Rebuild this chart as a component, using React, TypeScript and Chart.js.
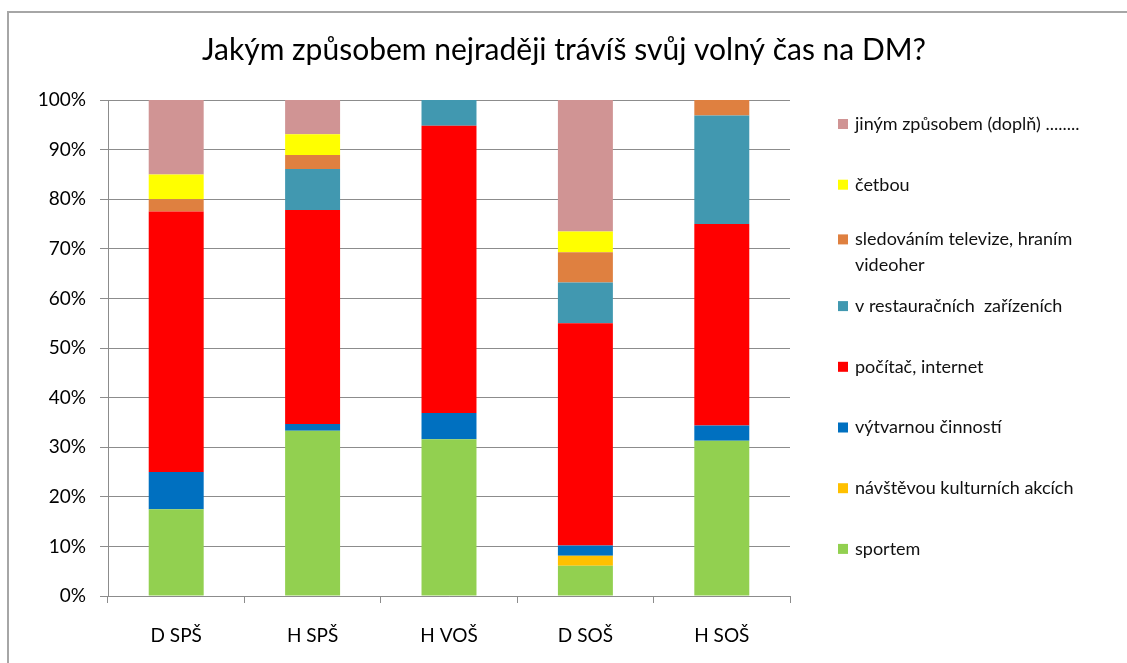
import React, { useEffect, useRef } from "react";
import { Chart, registerables } from "chart.js";

Chart.register(...registerables);

const TITLE = "Jakým způsobem nejraději trávíš svůj volný čas na DM?";
const categories = ["D SPŠ", "H SPŠ", "H VOŠ", "D SOŠ", "H SOŠ"];

// percentages per category (stack order bottom -> top)
const sportem = [17.5, 33.3, 31.6, 6.1, 31.3];
const navstevou = [0, 0, 0, 2.0, 0];
const vytvarnou = [7.5, 1.4, 5.3, 2.1, 3.1];
const pocitac = [52.5, 43.1, 57.9, 44.8, 40.6];
const restaurace = [0, 8.3, 5.2, 8.2, 21.9];
const televize = [2.5, 2.8, 0, 6.1, 3.1];
const cetbou = [5.0, 4.2, 0, 4.2, 0];
const jinym = [15.0, 6.9, 0, 26.5, 0];

const seriesLabels = [
  "sportem",
  "návštěvou kulturních akcích",
  "výtvarnou činností",
  "počítač, internet",
  "v restauračních  zařízeních",
  "sledováním televize, hraním\nvideoher",
  "četbou",
  "jiným způsobem (doplň) ........",
];
const seriesData = [sportem, navstevou, vytvarnou, pocitac, restaurace, televize, cetbou, jinym];
const seriesColors = ["#92D050", "#FFC000", "#0070C0", "#FF0000", "#4198B0", "#DF8040", "#FFFF00", "#D09494"];

const yTicks = [0, 10, 20, 30, 40, 50, 60, 70, 80, 90, 100];

const FONT = "Lato, 'Open Sans', sans-serif";

const decorPlugin = {
  id: "decor",
  afterDraw(chart: any) {
    const ctx = chart.ctx;
    const ca = chart.chartArea;
    ctx.save();
    // title
    ctx.fillStyle = "#000";
    ctx.font = `30px ${FONT}`;
    ctx.textAlign = "center";
    ctx.textBaseline = "middle";
    ctx.fillText(TITLE, 564, 50);

    // legend (reverse order, top = last series)
    ctx.font = `18px ${FONT}`;
    ctx.textAlign = "left";
    const x0 = ca.right + 48;
    const startY = ca.top + 24;
    const step = 60.7;
    const n = chart.data.datasets.length;
    for (let k = 0; k < n; k++) {
      const ds = chart.data.datasets[n - 1 - k];
      const lines = String(ds.label).split("\n");
      const cy = startY + k * step - (lines.length - 1) * 6;
      ctx.fillStyle = ds.backgroundColor;
      ctx.fillRect(x0, cy - 5, 10, 10);
      ctx.fillStyle = "#111";
      lines.forEach((ln: string, i: number) => {
        ctx.fillText(ln, x0 + 17, cy + i * 26);
      });
    }
    ctx.restore();
  },
};

export default function App() {
  const ref = useRef<HTMLCanvasElement>(null);

  useEffect(() => {
    if (!ref.current) return;
    const chart = new Chart(ref.current, {
      type: "bar",
      data: {
        labels: categories,
        datasets: seriesData.map((d, i) => ({
          label: seriesLabels[i],
          data: d,
          backgroundColor: seriesColors[i],
          borderWidth: 0,
          categoryPercentage: 1,
          barPercentage: 0.403,
        })),
      },
      options: {
        responsive: false,
        animation: false,
        layout: { padding: { left: 0, top: 100, right: 337, bottom: 0 } },
        plugins: {
          legend: { display: false },
          title: { display: false },
          tooltip: { enabled: false },
        },
        scales: {
          x: {
            stacked: true,
            afterFit: (s: any) => {
              s.height = 67;
            },
            grid: {
              display: true,
              offset: true,
              drawOnChartArea: false,
              drawTicks: true,
              tickLength: 7,
              color: "#8c8c8c",
            },
            border: { display: true, color: "#8c8c8c", width: 1 },
            ticks: {
              color: "#000",
              padding: 21,
              font: { family: FONT, size: 19 },
            },
          },
          y: {
            stacked: true,
            min: 0,
            max: 100,
            afterFit: (s: any) => {
              s.width = 108;
            },
            afterBuildTicks: (s: any) => {
              s.ticks = yTicks.map((v) => ({ value: v }));
            },
            grid: {
              color: "#8c8c8c",
              tickLength: 8,
              lineWidth: 1,
            },
            border: { display: true, color: "#8c8c8c", width: 1 },
            ticks: {
              color: "#000",
              padding: 14,
              font: { family: FONT, size: 19 },
              callback: (v: any) => `${v}%`,
            },
          },
        },
      },
      plugins: [decorPlugin],
    });
    return () => chart.destroy();
  }, []);

  return (
    <div style={{ position: "fixed", left: 0, top: 0, width: 1127, height: 663, background: "#fff", overflow: "hidden" }}>
      <div
        style={{
          position: "absolute",
          left: 7,
          top: 11,
          width: 1140,
          height: 700,
          borderLeft: "2px solid #a6a6a6",
          borderTop: "2px solid #a6a6a6",
        }}
      />
      <canvas ref={ref} width={1127} height={663} style={{ position: "absolute", left: 0, top: 0, display: "block" }} />
    </div>
  );
}
